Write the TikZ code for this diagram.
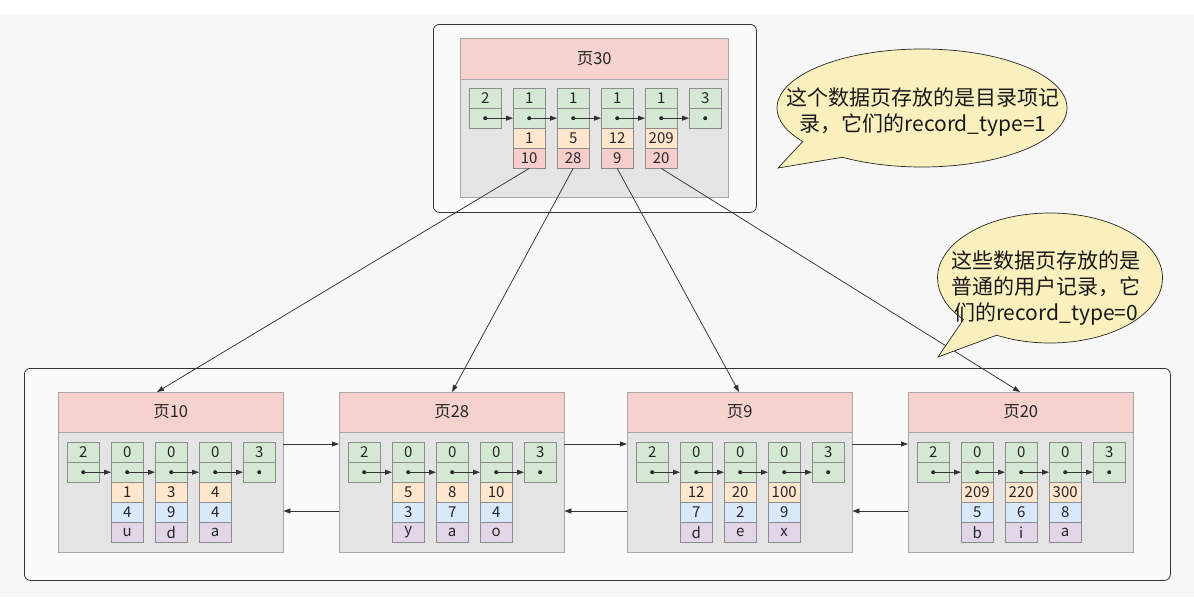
\documentclass[tikz,border=0pt]{standalone}
\usepackage{fontspec}
\setmainfont{Noto Sans CJK SC}
\usetikzlibrary{arrows.meta,shapes.callouts}
\definecolor{hdpink}{HTML}{F6D2CE}
\definecolor{bodygray}{HTML}{E4E4E4}
\definecolor{cgreen}{HTML}{D5E8D4}
\definecolor{corange}{HTML}{FFE6CC}
\definecolor{cpink}{HTML}{F8CECC}
\definecolor{cblue}{HTML}{DAE8FC}
\definecolor{cpurple}{HTML}{E1D5E7}
\definecolor{bubble}{HTML}{FAF0BE}

\begin{document}
\begin{tikzpicture}[x=1pt, y=-1pt,
    font=\fontsize{15}{17}\selectfont, text=black!85,
    cell/.style={draw=black!45, anchor=north west, inner sep=0pt, minimum width=32pt, minimum height=20pt},
    head/.style={draw=black!35, fill=hdpink, anchor=north west, inner sep=0pt, font=\fontsize{16.5}{18}\selectfont},
    body/.style={draw=black!35, fill=bodygray, anchor=north west, inner sep=0pt},
    frame/.style={draw=black!80, line width=0.8pt, fill=black!2, rounded corners=6pt, anchor=north west, inner sep=0pt},
    arr/.style={-{Triangle[length=7pt,width=5pt]}, draw=black!80, line width=0.75pt},
    note/.style={ellipse callout, draw=black!85, line width=0.7pt, fill=bubble, callout pointer arc=22},
    notetext/.style={align=center, font=\fontsize{21}{26}\selectfont, text=black!90}]
  \fill[black!3] (0,14) rectangle (1194,597);
  \useasboundingbox (0,0) rectangle (1194,597);

  % top page
  \node[frame, minimum width=323pt, minimum height=188pt] (top) at (433,24) {};
  \node[body, minimum width=268pt, minimum height=159pt] (p30) at (460,38) {};
  \node[head, minimum width=268pt, minimum height=41pt] (h30) at (460,38) {页30};
  \foreach \i/\lb in {0/2,1/1,2/1,3/1,4/1,5/3} {
    \node[cell, fill=cgreen] (g30-\i) at (469+44*\i,88) {\lb};
    \node[cell, fill=cgreen] (d30-\i) at (469+44*\i,108) {};
    \fill[black!85] (d30-\i.center) circle (2pt);
  }
  \foreach \i/\j in {0/1,1/2,2/3,3/4,4/5} \draw[arr] (d30-\i.center) -- (d30-\j.west);
  \foreach \i/\rk/\rp in {1/1/10,2/5/28,3/12/9,4/209/20} {
    \node[cell, fill=corange] (k30-\i) at (469+44*\i,128) {\rk};
    \node[cell, fill=cpink] (r30-\i) at (469+44*\i,148) {\rp};
  }

  % leaf pages
  \node[frame, minimum width=1146pt, minimum height=212pt] (leaves) at (24,368) {};
  \foreach \n/\px/\ka/\kb/\kc/\na/\nb/\nc/\sa/\sb/\sc in
      {10/58/1/3/4/4/9/4/u/d/a, 28/339/5/8/10/3/7/4/y/a/o,
       9/627/12/20/100/7/2/9/d/e/x, 20/908/209/220/300/5/6/8/b/i/a} {
    \node[body, minimum width=225pt, minimum height=160pt] (p\n) at (\px,392) {};
    \node[head, minimum width=225pt, minimum height=40pt] (h\n) at (\px,392) {页\n};
    \foreach \i/\lb in {0/2,1/0,2/0,3/0,4/3} {
      \node[cell, fill=cgreen] (g\n-\i) at (\px+9+44*\i,442) {\lb};
      \node[cell, fill=cgreen] (d\n-\i) at (\px+9+44*\i,462) {};
      \fill[black!85] (d\n-\i.center) circle (2pt);
    }
    \foreach \i/\j in {0/1,1/2,2/3,3/4} \draw[arr] (d\n-\i.center) -- (d\n-\j.west);
    \foreach \i/\rk/\rn/\rc in {1/\ka/\na/\sa, 2/\kb/\nb/\sb, 3/\kc/\nc/\sc} {
      \node[cell, fill=corange] (k\n-\i) at (\px+9+44*\i,482) {\rk};
      \node[cell, fill=cblue] (v\n-\i) at (\px+9+44*\i,502) {\rn};
      \node[cell, fill=cpurple] (c\n-\i) at (\px+9+44*\i,522) {\rc};
    }
  }
  \foreach \a/\b in {10/28,28/9,9/20} {
    \draw[arr] ([yshift=-52pt]p\a.north east) -- ([yshift=-52pt]p\b.north west);
    \draw[arr] ([yshift=-119pt]p\b.north west) -- ([yshift=-119pt]p\a.north east);
  }

  % directory entries to pages
  \draw[arr] (r30-1.south) -- ([xshift=99pt]h10.north west);
  \draw[arr] (r30-2.south) -- ([xshift=113pt]h28.north west);
  \draw[arr] (r30-3.south) -- ([xshift=112pt]h9.north west);
  \draw[arr] (r30-4.south) -- ([xshift=112pt]h20.north west);

  % notes
  \node[note, minimum width=290pt, minimum height=118pt, callout absolute pointer={(778,168)}] (note1) at (922,108) {};
  \node[notetext] (note1txt) at (923,112) {这个数据页存放的是目录项记\\录，它们的record\_type=1};
  \node[note, minimum width=225pt, minimum height=130pt, callout absolute pointer={(938,357)}] (note2) at (1050,278) {};
  \node[notetext] (note2txt) at (1046,288) {这些数据页存放的是\\普通的用户记录，它\\们的record\_type=0};
\end{tikzpicture}
\end{document}
